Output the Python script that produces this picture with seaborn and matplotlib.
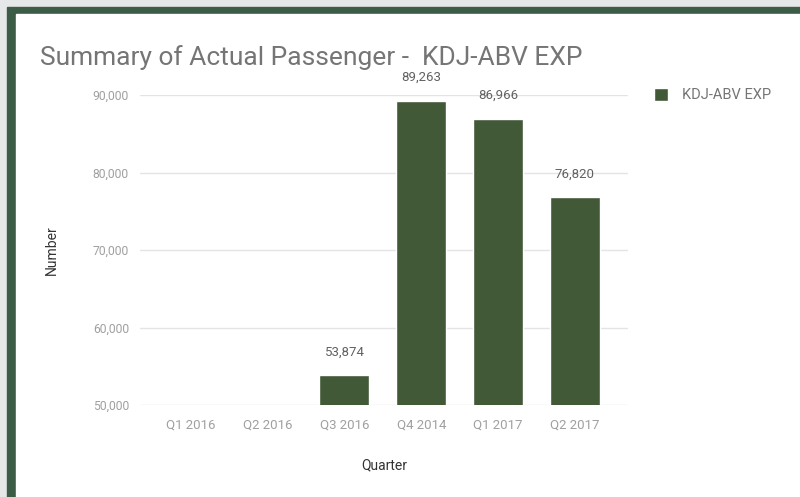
import pandas as pd
import numpy as np
import matplotlib
matplotlib.use('Agg')
import matplotlib.pyplot as plt
import seaborn as sns

quarters = ['Q1 2016', 'Q2 2016', 'Q3 2016', 'Q4 2014', 'Q1 2017', 'Q2 2017']
passengers = [np.nan, np.nan, 53874, 89263, 86966, 76820]
series_name = 'KDJ-ABV EXP'
y_ticks = [50000, 60000, 70000, 80000, 90000]

BAR_COLOR = '#3e5f31'
BORDER = '#3d5c47'
OUTER = '#e6e7e9'


def main():
    df = pd.DataFrame({'quarter': quarters, 'passengers': passengers})
    df['series'] = series_name
    df = df.dropna()

    sns.set_theme(style='white')
    plt.rcParams['font.family'] = ['Roboto', 'DejaVu Sans']

    fig = plt.figure(figsize=(8, 4.97), dpi=100)
    fig.patch.set_facecolor('white')

    # frame around the chart: grey outer strip + green border
    fig.patches.append(plt.Rectangle((0, 0), 1, 1, transform=fig.transFigure,
                                     color=OUTER, zorder=-3))
    fig.patches.append(plt.Rectangle((7 / 800, 0), 1, 1 - 7 / 497, transform=fig.transFigure,
                                     color=BORDER, zorder=-2))
    fig.patches.append(plt.Rectangle((16 / 800, 0), 1, 1 - 14 / 497, transform=fig.transFigure,
                                     color='white', zorder=-1))

    ax = fig.add_axes([140 / 800, 1 - 405 / 497, 488 / 800, 310 / 497])
    ax.set_facecolor('none')
    sns.barplot(data=df, x='quarter', y='passengers', hue='series', order=quarters,
                palette=[BAR_COLOR], width=0.65, ax=ax, zorder=3)

    ax.set_ylim(50000, 90000)
    ax.set_xlim(-0.66, 5.69)
    ax.set_yticks(y_ticks)
    ax.set_yticklabels([f'{t:,}' for t in y_ticks])
    ax.grid(axis='y', color='#e4e4e4', lw=1, zorder=0)
    ax.grid(axis='x', visible=False)
    for s in ax.spines.values():
        s.set_visible(False)
    ax.tick_params(axis='both', length=0, colors='#a0a0a0')
    ax.tick_params(axis='y', pad=8, labelsize=8.75)
    ax.tick_params(axis='x', pad=10, labelsize=9.5)

    bars = ax.containers[0]
    ax.bar_label(bars, labels=[f'{b.get_height():,.0f}' for b in bars],
                 padding=12, fontsize=9.5, color='#616161', clip_on=False)

    ax.set_xlabel('Quarter', fontsize=10, color='#333333', labelpad=19)
    ax.set_ylabel('Number', fontsize=10, color='#333333', labelpad=24)

    leg = ax.legend(loc='upper left', bbox_to_anchor=(654 / 800, 1 - 88 / 497),
                    bbox_transform=fig.transFigure, frameon=False, fontsize=10.5,
                    handlelength=0.95, handleheight=0.95, handletextpad=0.95,
                    borderpad=0, borderaxespad=0)
    for t in leg.get_texts():
        t.set_color('#757575')

    fig.text(40 / 800, 1 - 58 / 497, 'Summary of Actual Passenger -  KDJ-ABV EXP',
             fontsize=19, color='#757575', va='center', ha='left')

    fig.savefig('out.png', dpi=100)
    plt.close(fig)


if __name__ == '__main__':
    main()
